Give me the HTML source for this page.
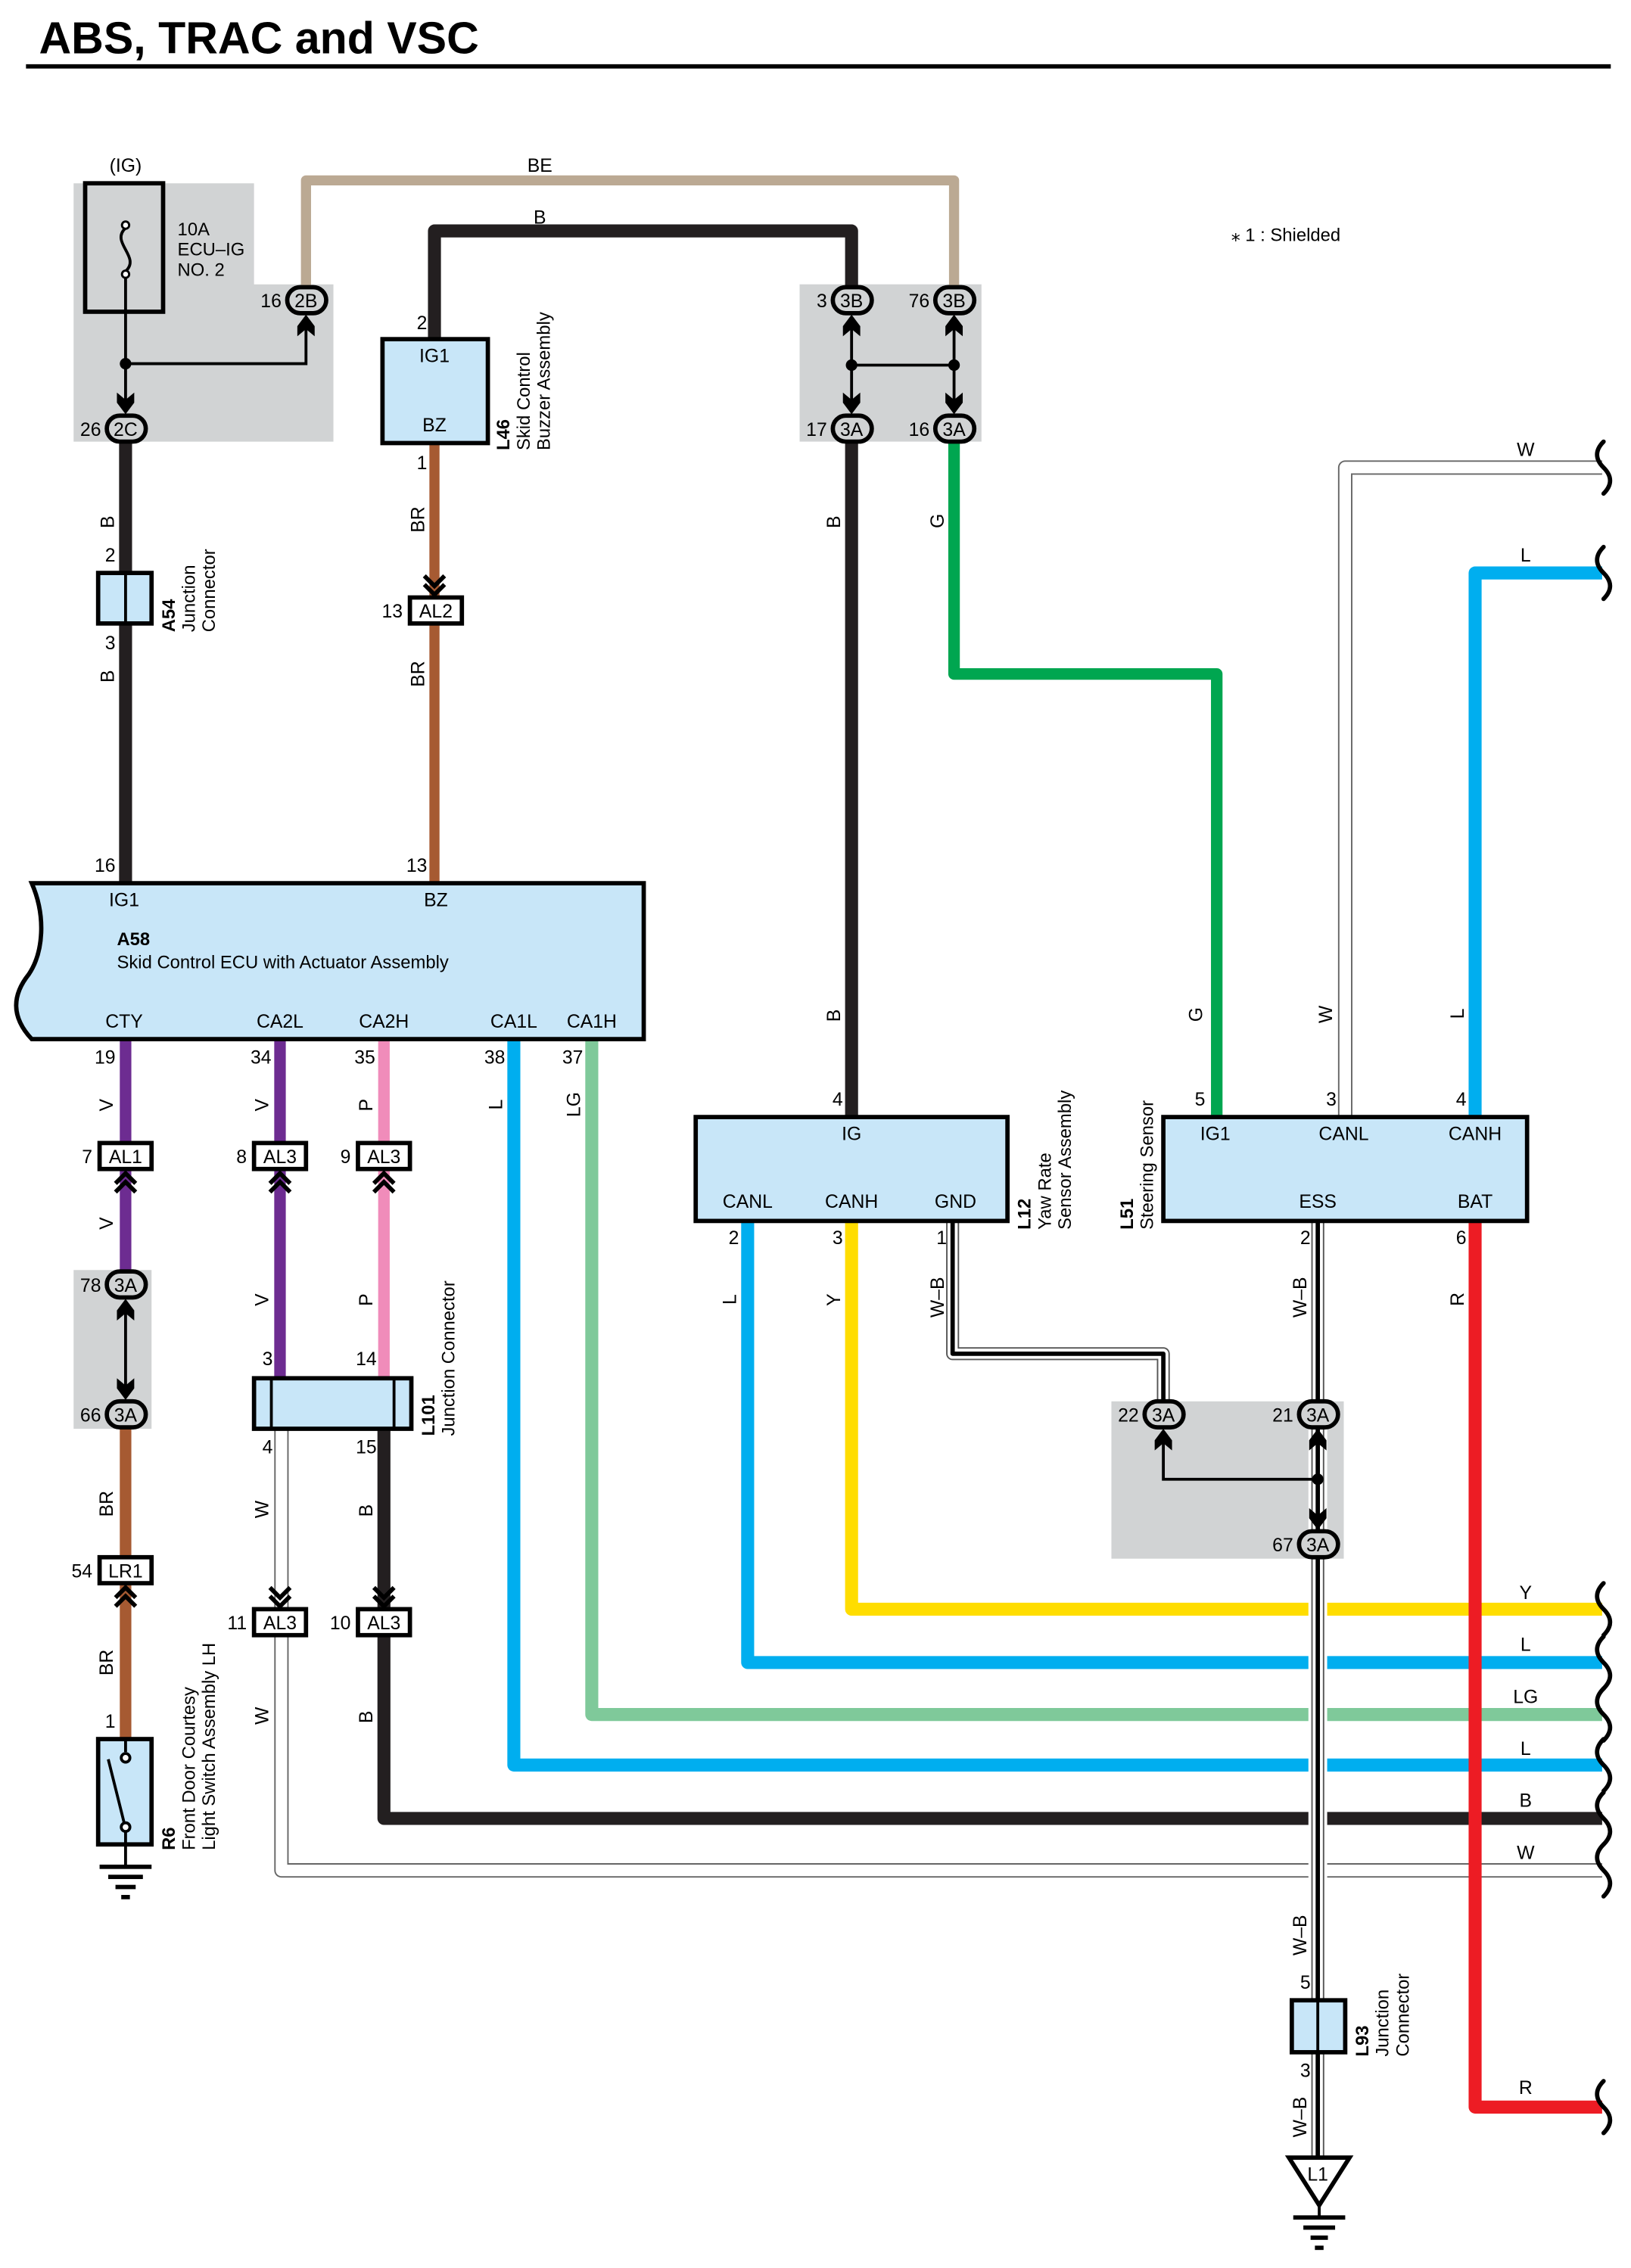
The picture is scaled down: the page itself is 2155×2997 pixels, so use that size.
<!DOCTYPE html>
<html><head><meta charset="utf-8"><style>
html,body{margin:0;padding:0;background:#fff}
svg{display:block}
text{font-family:"Liberation Sans Narrow","Liberation Sans",sans-serif;font-size:13px;fill:#000}
.c{text-anchor:middle}
.e{text-anchor:end}
.b{font-weight:bold;font-family:"Liberation Sans",sans-serif}
.s{font-family:"Liberation Sans",sans-serif;font-size:12.5px}
</style></head><body>
<svg width="2155" height="2997" viewBox="0 0 1130 1571.5" preserveAspectRatio="none" xmlns="http://www.w3.org/2000/svg">
<defs>
<path id="ar" d="M0,0 L6,8 L6,15 L0,10 L-6,15 L-6,8 Z" fill="#000"/>
<g id="dc" fill="none" stroke="#000" stroke-width="3"><polyline points="-7,8 0,1 7,8"/><polyline points="-7,14 0,7 7,14"/></g>
<path id="wv" d="M0,-18 C-6,-12 -6,-6 0,0 C6,6 6,12 0,18" fill="none" stroke="#000" stroke-width="3" stroke-linecap="round"/>
</defs>

<!-- title -->
<text x="27" y="37" class="b" style="font-size:31px">ABS, TRAC and VSC</text>
<rect x="18" y="44.5" width="1098" height="3" fill="#000"/>

<!-- gray boxes -->
<path d="M51,127 H176 V197 H231 V306 H51 Z" fill="#d1d3d4"/>
<rect x="554" y="197" width="126" height="109" fill="#d1d3d4"/>
<rect x="51" y="880" width="54" height="110" fill="#d1d3d4"/>
<rect x="770" y="971" width="161" height="109" fill="#d1d3d4"/>

<g fill="none" stroke-linejoin="round">
<!-- BE -->
<path d="M212,208 V125 H661 V208" stroke="#bba993" stroke-width="7"/>
<!-- B top -->
<path d="M301,235 V160 H590 V208" stroke="#231f20" stroke-width="9"/>
<!-- W top -->
<path d="M1110,324 H932 V774" stroke="#666" stroke-width="10"/>
<path d="M1110,324 H932 V774" stroke="#fff" stroke-width="8"/>
<!-- L top -->
<path d="M1110,397 H1022 V774" stroke="#00aeef" stroke-width="9"/>
<!-- left B -->
<path d="M87,306 V612" stroke="#231f20" stroke-width="9"/>
<!-- BR -->
<path d="M301,307 V612" stroke="#a65a32" stroke-width="7"/>
<!-- mid B -->
<path d="M590,306 V774" stroke="#231f20" stroke-width="9"/>
<!-- G -->
<path d="M661,306 V467 H843 V774" stroke="#00a650" stroke-width="8"/>

<!-- horizontals to right -->
<path d="M590,846 V1115 H1110" stroke="#ffdd00" stroke-width="9"/>
<path d="M518,846 V1152 H1110" stroke="#00aeef" stroke-width="9"/>
<path d="M410,720 V1188 H1110" stroke="#7fc99a" stroke-width="9"/>
<path d="M356,720 V1223 H1110" stroke="#00aeef" stroke-width="9"/>
<path d="M266,990 V1260 H1110" stroke="#231f20" stroke-width="9"/>
<path d="M195,990 V1296 H1110" stroke="#666" stroke-width="10"/>
<path d="M195,990 V1296 H1110" stroke="#fff" stroke-width="8"/>

<!-- left column -->
<path d="M87,720 V890" stroke="#6d2c91" stroke-width="8"/>
<path d="M87,990 V1205" stroke="#a65a32" stroke-width="8"/>
<path d="M194,720 V955" stroke="#6d2c91" stroke-width="8"/>
<path d="M266,720 V955" stroke="#f08cba" stroke-width="8"/>

<!-- W-B GND -->
<path d="M660,846 V938 H806 V980" stroke="#555" stroke-width="9"/>
<path d="M660,846 V938 H806 V980" stroke="#fff" stroke-width="7"/>
<path d="M660,846 V938 H806 V980" stroke="#000" stroke-width="3"/>
<!-- W-B ESS -->
<path d="M913,846 V1495" stroke="#fff" stroke-width="13"/>
<path d="M913,846 V1495" stroke="#555" stroke-width="9"/>
<path d="M913,846 V1495" stroke="#fff" stroke-width="7"/>
<path d="M913,846 V1495" stroke="#000" stroke-width="3"/>
<!-- R -->
<path d="M1022,846 V1460 H1110" stroke="#ed1c24" stroke-width="9"/>
</g>

<!-- wavy ends -->
<use href="#wv" x="1111" y="324"/><use href="#wv" x="1111" y="397"/>
<use href="#wv" x="1111" y="1115"/><use href="#wv" x="1111" y="1152"/><use href="#wv" x="1111" y="1188"/>
<use href="#wv" x="1111" y="1223"/><use href="#wv" x="1111" y="1260"/><use href="#wv" x="1111" y="1296"/>
<use href="#wv" x="1111" y="1460"/>

<!-- fuse box -->
<rect x="59" y="127" width="54" height="89" fill="none" stroke="#000" stroke-width="3"/>
<path d="M87,158 C76,168 98,178 87,188" fill="none" stroke="#000" stroke-width="2"/>
<circle cx="87" cy="156" r="2.5" fill="#fff" stroke="#000" stroke-width="1.5"/>
<circle cx="87" cy="190" r="2.5" fill="#fff" stroke="#000" stroke-width="1.5"/>
<g stroke="#000" stroke-width="2" fill="none">
<path d="M87,193 V285"/><path d="M87,252 H212 V220"/>
<path d="M590,220 V285"/><path d="M661,220 V285"/><path d="M590,253 H661"/>
<path d="M87,902 V968"/>
<path d="M806,992 V1025 H913"/><path d="M913,992 V1058"/>
</g>
<circle cx="87" cy="252" r="4"/><circle cx="590" cy="253" r="4"/><circle cx="661" cy="253" r="4"/><circle cx="913" cy="1025" r="4"/>
<use href="#ar" x="212" y="218"/><use href="#ar" transform="translate(87,287) rotate(180)"/>
<use href="#ar" x="590" y="218"/><use href="#ar" x="661" y="218"/>
<use href="#ar" transform="translate(590,287) rotate(180)"/><use href="#ar" transform="translate(661,287) rotate(180)"/>
<use href="#ar" x="87" y="900"/><use href="#ar" transform="translate(87,970) rotate(180)"/>
<use href="#ar" x="806" y="990"/><use href="#ar" x="913" y="990"/><use href="#ar" transform="translate(913,1060) rotate(180)"/>

<text x="87" y="119" class="c">(IG)</text>
<text x="123" y="163" class="s">10A</text><text x="123" y="177" class="s">ECU–IG</text><text x="123" y="191" class="s">NO. 2</text>
<text x="374" y="119" class="c">BE</text><text x="374" y="155" class="c">B</text>
<text x="853" y="167" class="s">⁎ 1 : Shielded</text>

<!-- pills -->
<g fill="#d1d3d4" stroke="#000" stroke-width="3">
<rect x="199" y="199" width="27" height="18" rx="9"/>
<rect x="74" y="288" width="27" height="18" rx="9"/>
<rect x="577" y="199" width="27" height="18" rx="9"/>
<rect x="648" y="199" width="27" height="18" rx="9"/>
<rect x="577" y="288" width="27" height="18" rx="9"/>
<rect x="648" y="288" width="27" height="18" rx="9"/>
<rect x="74" y="881" width="27" height="18" rx="9"/>
<rect x="74" y="971" width="27" height="18" rx="9"/>
<rect x="793" y="971" width="27" height="18" rx="9"/>
<rect x="900" y="971" width="27" height="18" rx="9"/>
<rect x="900" y="1061" width="27" height="18" rx="9"/>
</g>
<text x="212" y="213" class="c">2B</text><text x="195" y="213" class="e">16</text>
<text x="87" y="302" class="c">2C</text><text x="70" y="302" class="e">26</text>
<text x="590" y="213" class="c">3B</text><text x="573" y="213" class="e">3</text>
<text x="661" y="213" class="c">3B</text><text x="644" y="213" class="e">76</text>
<text x="590" y="302" class="c">3A</text><text x="573" y="302" class="e">17</text>
<text x="661" y="302" class="c">3A</text><text x="644" y="302" class="e">16</text>
<text x="87" y="895" class="c">3A</text><text x="70" y="895" class="e">78</text>
<text x="87" y="985" class="c">3A</text><text x="70" y="985" class="e">66</text>
<text x="806" y="985" class="c">3A</text><text x="789" y="985" class="e">22</text>
<text x="913" y="985" class="c">3A</text><text x="896" y="985" class="e">21</text>
<text x="913" y="1075" class="c">3A</text><text x="896" y="1075" class="e">67</text>

<!-- L46 -->
<rect x="265" y="235" width="73" height="72" fill="#c8e6f8" stroke="#000" stroke-width="3"/>
<text x="301" y="251" class="c">IG1</text><text x="301" y="299" class="c">BZ</text>
<text x="296" y="228" class="e">2</text><text x="296" y="325" class="e">1</text>
<g transform="translate(353,312) rotate(-90)"><text class="b" style="font-size:12.5px">L46</text><text y="14" class="s">Skid Control</text><text y="28" class="s">Buzzer Assembly</text></g>

<!-- AL2 -->
<use href="#dc" transform="translate(301,413) rotate(180)"/>
<rect x="284" y="414" width="36" height="18" fill="#fff" stroke="#000" stroke-width="3"/>
<text x="302" y="428" class="c">AL2</text><text x="279" y="428" class="e">13</text>

<!-- A54 -->
<rect x="68" y="397" width="37" height="35" fill="#c8e6f8" stroke="#000" stroke-width="3"/>
<line x1="87" y1="397" x2="87" y2="432" stroke="#000" stroke-width="2"/>
<text x="80" y="389" class="e">2</text><text x="80" y="450" class="e">3</text>
<g transform="translate(121,438) rotate(-90)"><text class="b" style="font-size:12.5px">A54</text><text y="14" class="s">Junction</text><text y="28" class="s">Connector</text></g>

<!-- wire color labels rotated -->
<g>
<text transform="translate(79,366) rotate(-90)">B</text>
<text transform="translate(79,473) rotate(-90)">B</text>
<text transform="translate(294,369) rotate(-90)">BR</text>
<text transform="translate(294,476) rotate(-90)">BR</text>
<text transform="translate(582,366) rotate(-90)">B</text>
<text transform="translate(582,708) rotate(-90)">B</text>
<text transform="translate(654,366) rotate(-90)">G</text>
<text transform="translate(833,708) rotate(-90)">G</text>
<text transform="translate(923,709) rotate(-90)">W</text>
<text transform="translate(1014,706) rotate(-90)">L</text>
<text transform="translate(78,770) rotate(-90)">V</text>
<text transform="translate(78,852) rotate(-90)">V</text>
<text transform="translate(186,770) rotate(-90)">V</text>
<text transform="translate(186,905) rotate(-90)">V</text>
<text transform="translate(258,770) rotate(-90)">P</text>
<text transform="translate(258,905) rotate(-90)">P</text>
<text transform="translate(348,769) rotate(-90)">L</text>
<text transform="translate(402,774) rotate(-90)">LG</text>
<text transform="translate(78,1051) rotate(-90)">BR</text>
<text transform="translate(78,1161) rotate(-90)">BR</text>
<text transform="translate(186,1052) rotate(-90)">W</text>
<text transform="translate(186,1195) rotate(-90)">W</text>
<text transform="translate(258,1051) rotate(-90)">B</text>
<text transform="translate(258,1194) rotate(-90)">B</text>
<text transform="translate(510,904) rotate(-90)">L</text>
<text transform="translate(582,905) rotate(-90)">Y</text>
<text transform="translate(654,913) rotate(-90)">W–B</text>
<text transform="translate(905,913) rotate(-90)">W–B</text>
<text transform="translate(1014,905) rotate(-90)">R</text>
<text transform="translate(905,1355) rotate(-90)">W–B</text>
<text transform="translate(905,1481) rotate(-90)">W–B</text>
</g>
<text x="1057" y="316" class="c">W</text><text x="1057" y="389" class="c">L</text>
<text x="1057" y="1108" class="c">Y</text><text x="1057" y="1144" class="c">L</text>
<text x="1057" y="1180" class="c">LG</text><text x="1057" y="1216" class="c">L</text>
<text x="1057" y="1252" class="c">B</text><text x="1057" y="1288" class="c">W</text>
<text x="1057" y="1451" class="c">R</text>

<!-- A58 -->
<path d="M22,612 H446 V720 H22 C8,705 8,690 20,675 C30,660 32,635 22,612 Z" fill="#c8e6f8" stroke="#000" stroke-width="3"/>
<text x="80" y="604" class="e">16</text><text x="296" y="604" class="e">13</text>
<text x="86" y="628" class="c">IG1</text><text x="302" y="628" class="c">BZ</text>
<text x="81" y="655" class="b" style="font-size:12.5px">A58</text>
<text x="81" y="671" class="s">Skid Control ECU with Actuator Assembly</text>
<text x="86" y="712" class="c">CTY</text><text x="194" y="712" class="c">CA2L</text><text x="266" y="712" class="c">CA2H</text>
<text x="356" y="712" class="c">CA1L</text><text x="410" y="712" class="c">CA1H</text>
<text x="80" y="737" class="e">19</text><text x="188" y="737" class="e">34</text><text x="260" y="737" class="e">35</text>
<text x="350" y="737" class="e">38</text><text x="404" y="737" class="e">37</text>

<!-- AL1 / AL3 row -->
<g fill="#fff" stroke="#000" stroke-width="3">
<rect x="69" y="792" width="36" height="18"/>
<rect x="176" y="792" width="36" height="18"/>
<rect x="248" y="792" width="36" height="18"/>
<rect x="69" y="1079" width="36" height="18"/>
<rect x="176" y="1115" width="36" height="18"/>
<rect x="248" y="1115" width="36" height="18"/>
</g>
<use href="#dc" x="87" y="812"/><use href="#dc" x="194" y="812"/><use href="#dc" x="266" y="812"/>
<use href="#dc" x="87" y="1099"/>
<use href="#dc" transform="translate(194,1114) rotate(180)"/><use href="#dc" transform="translate(266,1114) rotate(180)"/>
<text x="87" y="806" class="c">AL1</text><text x="64" y="806" class="e">7</text>
<text x="194" y="806" class="c">AL3</text><text x="171" y="806" class="e">8</text>
<text x="266" y="806" class="c">AL3</text><text x="243" y="806" class="e">9</text>
<text x="87" y="1093" class="c">LR1</text><text x="64" y="1093" class="e">54</text>
<text x="194" y="1129" class="c">AL3</text><text x="171" y="1129" class="e">11</text>
<text x="266" y="1129" class="c">AL3</text><text x="243" y="1129" class="e">10</text>

<!-- L101 -->
<rect x="176" y="955" width="109" height="35" fill="#c8e6f8" stroke="#000" stroke-width="3"/>
<line x1="188" y1="955" x2="188" y2="990" stroke="#000" stroke-width="2"/>
<line x1="273" y1="955" x2="273" y2="990" stroke="#000" stroke-width="2"/>
<text x="189" y="946" class="e">3</text><text x="261" y="946" class="e">14</text>
<text x="189" y="1007" class="e">4</text><text x="261" y="1007" class="e">15</text>
<g transform="translate(301,995) rotate(-90)"><text class="b" style="font-size:12.5px">L101</text><text y="14" class="s">Junction Connector</text></g>

<!-- R6 -->
<rect x="68" y="1205" width="37" height="73" fill="#c8e6f8" stroke="#000" stroke-width="3"/>
<g stroke="#000" stroke-width="2" fill="none">
<line x1="87" y1="1205" x2="87" y2="1214"/>
<circle cx="87" cy="1218" r="3" fill="#fff"/>
<line x1="75" y1="1219" x2="86" y2="1263"/>
<circle cx="87" cy="1266" r="3" fill="#fff"/>
<line x1="87" y1="1269" x2="87" y2="1293"/>
</g>
<g fill="#000"><rect x="69" y="1292" width="36" height="3"/><rect x="75" y="1299" width="24" height="3"/><rect x="80" y="1306" width="14" height="3"/><rect x="84" y="1313" width="6" height="3"/></g>
<text x="80" y="1197" class="e">1</text>
<g transform="translate(121,1282) rotate(-90)"><text class="b" style="font-size:12.5px">R6</text><text y="14" class="s">Front Door Courtesy</text><text y="28" class="s">Light Switch Assembly LH</text></g>

<!-- L12 -->
<rect x="482" y="774" width="216" height="72" fill="#c8e6f8" stroke="#000" stroke-width="3"/>
<text x="590" y="790" class="c">IG</text>
<text x="518" y="837" class="c">CANL</text><text x="590" y="837" class="c">CANH</text><text x="662" y="837" class="c">GND</text>
<text x="584" y="766" class="e">4</text>
<text x="512" y="862" class="e">2</text><text x="584" y="862" class="e">3</text><text x="656" y="862" class="e">1</text>
<g transform="translate(714,852) rotate(-90)"><text class="b" style="font-size:12.5px">L12</text><text y="14" class="s">Yaw Rate</text><text y="28" class="s">Sensor Assembly</text></g>

<!-- L51 -->
<rect x="806" y="774" width="252" height="72" fill="#c8e6f8" stroke="#000" stroke-width="3"/>
<text x="842" y="790" class="c">IG1</text><text x="931" y="790" class="c">CANL</text><text x="1022" y="790" class="c">CANH</text>
<text x="913" y="837" class="c">ESS</text><text x="1022" y="837" class="c">BAT</text>
<text x="835" y="766" class="e">5</text><text x="926" y="766" class="e">3</text><text x="1016" y="766" class="e">4</text>
<text x="908" y="862" class="e">2</text><text x="1016" y="862" class="e">6</text>
<g transform="translate(785,852) rotate(-90)"><text class="b" style="font-size:12.5px">L51</text><text y="14" class="s">Steering Sensor</text></g>

<!-- L93 -->
<rect x="895" y="1386" width="37" height="36" fill="#c8e6f8" stroke="#000" stroke-width="3"/>
<line x1="913" y1="1386" x2="913" y2="1422" stroke="#000" stroke-width="2"/>
<text x="908" y="1378" class="e">5</text><text x="908" y="1439" class="e">3</text>
<g transform="translate(948,1425) rotate(-90)"><text class="b" style="font-size:12.5px">L93</text><text y="14" class="s">Junction</text><text y="28" class="s">Connector</text></g>

<!-- L1 ground -->
<path d="M893,1495 H935 L914,1528 Z" fill="#fff" stroke="#000" stroke-width="3" stroke-linejoin="miter"/>
<text x="913" y="1511" class="c">L1</text>
<line x1="914" y1="1528" x2="914" y2="1536" stroke="#000" stroke-width="2"/>
<g fill="#000"><rect x="896" y="1535" width="36" height="3"/><rect x="903" y="1542" width="22" height="3"/><rect x="908" y="1549" width="12" height="3"/><rect x="911" y="1556" width="6" height="3"/></g>
</svg>
</body></html>
